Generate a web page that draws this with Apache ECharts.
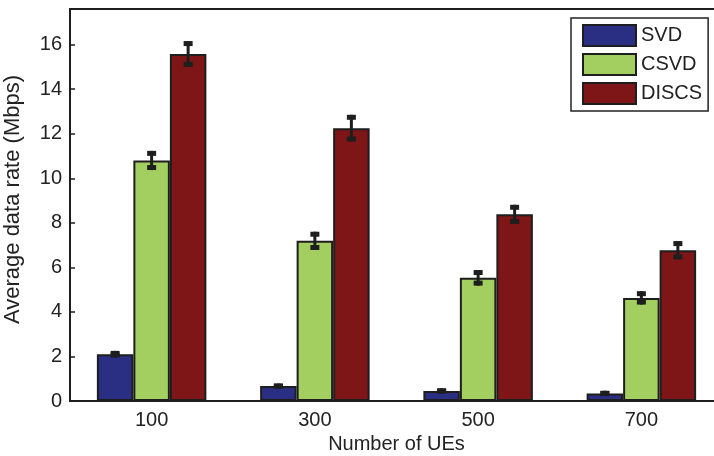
<!DOCTYPE html>
<html>
<head>
<meta charset="utf-8">
<script src="https://cdn.jsdelivr.net/npm/echarts@6/dist/echarts.min.js"></script>
<style>html,body{margin:0;padding:0;background:#fff}#c{width:714px;height:456px}</style>
</head>
<body>
<div id="c"></div>
<script>
var categories = ['100', '300', '500', '700'];
var seriesNames = ['SVD', 'CSVD', 'DISCS'];
var svd = [2.1, 0.67, 0.45, 0.34];
var csvd = [10.8, 7.19, 5.53, 4.63];
var discs = [15.58, 12.25, 8.38, 6.77];
var svdErr = [0.15, 0.11, 0.12, 0.12];
var csvdErr = [0.43, 0.41, 0.35, 0.3];
var discsErr = [0.58, 0.6, 0.43, 0.41];
var yTicks = [0, 2, 4, 6, 8, 10, 12, 14, 16];

var values = [svd, csvd, discs];
var errs = [svdErr, csvdErr, discsErr];
var colors = ['#2B2F83', '#A2CF5F', '#7E1517'];
var BAR_W = 36.5;
var FONT = 'Liberation Sans, Arial, Helvetica, sans-serif';

var chart = echarts.init(document.getElementById('c'));
var series = [];
seriesNames.forEach(function (name, i) {
  series.push({
    name: name,
    type: 'bar',
    data: values[i],
    barWidth: BAR_W,
    barGap: '0%',
    itemStyle: { color: colors[i], borderColor: '#1e1e1e', borderWidth: 2 },
    emphasis: { disabled: true },
    z: 2
  });
});
seriesNames.forEach(function (name, i) {
  var data = values[i].map(function (v, k) { return [k, v, errs[i][k]]; });
  series.push({
    type: 'custom',
    name: name + '_err',
    data: data,
    z: 5,
    silent: true,
    renderItem: function (params, api) {
      var k = api.value(0), v = api.value(1), e = api.value(2);
      var x = api.coord([k, 0])[0] + (i - 1) * BAR_W;
      var yHi = api.coord([k, v + e])[1];
      var yLo = api.coord([k, v - e])[1];
      var capW = 9, capH = 5;
      return {
        type: 'group',
        children: [
          { type: 'line', shape: { x1: x, y1: yHi, x2: x, y2: yLo }, style: { stroke: '#1e1e1e', lineWidth: 3 } },
          { type: 'rect', shape: { x: x - capW / 2, y: yHi, width: capW, height: capH }, style: { fill: '#1e1e1e' } },
          { type: 'rect', shape: { x: x - capW / 2, y: yLo - capH, width: capW, height: capH }, style: { fill: '#1e1e1e' } }
        ]
      };
    }
  });
});

chart.setOption({
  animation: false,
  backgroundColor: '#fff',
  textStyle: { fontFamily: FONT },
  grid: { left: 70, top: 9, right: -9, bottom: 55, show: true, borderColor: '#1e1e1e', borderWidth: 2, containLabel: false, outerBoundsMode: 'none' },
  legend: {
    data: seriesNames,
    orient: 'vertical',
    left: 571,
    top: 18,
    padding: [6, 6, 6, 11],
    itemGap: 6,
    itemWidth: 53,
    itemHeight: 21,
    icon: 'rect',
    backgroundColor: '#fff',
    borderColor: '#222',
    borderWidth: 1.5,
    borderRadius: 0,
    textStyle: { fontSize: 20, color: '#222', fontFamily: FONT },
    selectedMode: false
  },
  xAxis: {
    type: 'category',
    data: categories,
    name: 'Number of UEs',
    nameLocation: 'middle',
    nameGap: 33,
    nameTextStyle: { fontSize: 20, color: '#222', fontFamily: FONT },
    axisLine: { lineStyle: { color: '#1e1e1e', width: 2 } },
    axisTick: { show: false },
    axisLabel: { fontSize: 20, color: '#222', margin: 9, fontFamily: FONT },
    splitLine: { show: false }
  },
  yAxis: {
    type: 'value',
    min: 0,
    max: 17.6,
    interval: 2,
    name: 'Average data rate (Mbps)',
    nameLocation: 'middle',
    nameGap: 46,
    nameTextStyle: { fontSize: 22, color: '#222', fontFamily: FONT, padding: [0, 0, 0, 11] },
    axisLine: { show: true, lineStyle: { color: '#1e1e1e', width: 2 } },
    axisTick: { show: true, inside: true, length: 5, lineStyle: { color: '#1e1e1e', width: 1.5 } },
    axisLabel: {
      fontSize: 20, color: '#222', margin: 8, fontFamily: FONT,
      showMaxLabel: false,
      formatter: function (v) { return yTicks.indexOf(v) >= 0 ? String(v) : ''; }
    },
    splitLine: { show: false }
  },
  series: series
});
</script>
</body>
</html>
